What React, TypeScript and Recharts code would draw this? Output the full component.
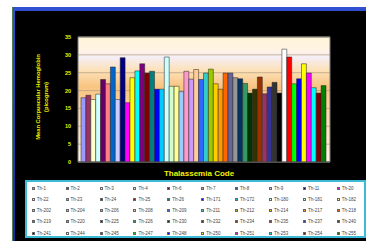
import React from 'react';
import { BarChart, Bar, XAxis, YAxis, CartesianGrid, Legend, Label, ReferenceArea } from 'recharts';

const codes = [
  'Th-1', 'Th-2', 'Th-3', 'Th-4', 'Th-6', 'Th-7', 'Th-8', 'Th-9', 'Th-11', 'Th-20',
  'Th-22', 'Th-23', 'Th-24', 'Th-25', 'Th-26', 'Th-171', 'Th-172', 'Th-180', 'Th-181', 'Th-182',
  'Th-202', 'Th-204', 'Th-206', 'Th-208', 'Th-209', 'Th-211', 'Th-212', 'Th-214', 'Th-217', 'Th-218',
  'Th-219', 'Th-220', 'Th-225', 'Th-226', 'Th-230', 'Th-232', 'Th-234', 'Th-235', 'Th-237', 'Th-240',
  'Th-241', 'Th-244', 'Th-245', 'Th-247', 'Th-248', 'Th-250', 'Th-251', 'Th-253', 'Th-254', 'Th-255',
];

const mchValues = [
  18.0, 18.7, 17.5, 19.0, 23.1, 21.9, 26.6, 17.5, 29.2, 16.6,
  23.6, 25.5, 27.5, 24.9, 25.4, 20.4, 20.4, 29.4, 21.2, 21.2,
  19.7, 25.4, 23.2, 25.9, 23.1, 24.9, 26.0, 21.9, 20.4, 24.9,
  24.9, 23.6, 23.3, 22.0, 19.3, 20.4, 23.8, 19.1, 21.0, 22.3,
  19.3, 31.6, 29.4, 21.9, 23.3, 27.5, 24.9, 20.8, 19.3, 21.4,
];

const seriesColors = [
  '#9999FF', '#993366', '#FFFFCC', '#CCFFFF', '#660066', '#FF8080', '#0066CC', '#CCCCFF', '#000080', '#FF00FF',
  '#FFFF00', '#00FFFF', '#800080', '#800000', '#008080', '#0000FF', '#00CCFF', '#CCFFFF', '#CCFFCC', '#FFFF99',
  '#99CCFF', '#FF99CC', '#CC99FF', '#FFCC99', '#3366FF', '#33CCCC', '#99CC00', '#FFCC00', '#FF9900', '#FF6600',
  '#666699', '#969696', '#003366', '#339966', '#003300', '#333300', '#993300', '#993366', '#333399', '#333333',
  '#000000', '#FFFFFF', '#FF0000', '#00FF00', '#0000FF', '#FFFF00', '#FF00FF', '#00FFFF', '#800000', '#008000',
];

const yTicks = [0, 5, 10, 15, 20, 25, 30, 35];

const xTitle = 'Thalassemia Code';
const yTitleLine1 = 'Mean Corpuscular Hemoglobin';
const yTitleLine2 = '(picogram)';

const row: Record<string, number | string> = { name: '' };
codes.forEach((c, i) => {
  row['v' + i] = mchValues[i];
});
const data = [row];

const FONT = '"Liberation Sans", Arial, sans-serif';
const YELLOW = '#F2F200';

const LegendGrid = () => {
  return (
    <div
      style={{
        position: 'relative',
        width: 341,
        height: 58,
        boxSizing: 'border-box',
        border: '2px solid #3DBBD6',
        background: '#FFFFFF',
        fontFamily: FONT,
      }}
    >
      {codes.map((code, i) => {
        const col = i % 10;
        const r = Math.floor(i / 10);
        const left = 4.7 + 33.9 * col;
        const top = 3.5 + 11.3 * r;
        return (
          <div key={code} style={{ position: 'absolute', left, top, height: 5, display: 'flex', alignItems: 'center' }}>
            <div style={{ width: 3, height: 3, background: seriesColors[i], border: '0.5px solid #666', boxSizing: 'border-box' }} />
            <span style={{ marginLeft: 2, fontSize: 4.5, lineHeight: '5px', color: '#444', whiteSpace: 'nowrap' }}>
              {code}
            </span>
          </div>
        );
      })}
    </div>
  );
};

export default function App() {
  return (
    <div style={{ position: 'absolute', left: 0, top: 0, width: 366, height: 241, background: '#FFFFFF', overflow: 'hidden' }}>
      <div style={{ position: 'absolute', left: 12, top: 7, width: 354, height: 234, background: '#4F7F4F' }} />
      <div style={{ position: 'absolute', left: 13, top: 7, width: 353, height: 234, background: 'linear-gradient(#3050D0, #1A2A9A)' }} />
      <div style={{ position: 'absolute', left: 15, top: 11, width: 351, height: 230, background: '#000000' }} />
      <div style={{ position: 'absolute', left: 0, top: 0 }}>
        <BarChart
          width={366}
          height={241}
          data={data}
          margin={{ top: 37, right: 36, left: 58, bottom: 63 }}
          barSize={4.9}
          barGap={0}
          barCategoryGap={0}
        >
          <defs>
            <linearGradient id="plotBg" x1="0" y1="0" x2="0" y2="1">
              <stop offset="0%" stopColor="#FFF6DA" />
              <stop offset="10%" stopColor="#FFF3E2" />
              <stop offset="16%" stopColor="#F5EEF6" />
              <stop offset="26%" stopColor="#FCE2BC" />
              <stop offset="40%" stopColor="#F9C480" />
              <stop offset="60%" stopColor="#FBD6A6" />
              <stop offset="100%" stopColor="#FFF4E6" />
            </linearGradient>
          </defs>
          <CartesianGrid vertical={false} fill="url(#plotBg)" stroke="#B9A487" strokeWidth={0.8} fillOpacity={1} />
          <ReferenceArea y1={0} y2={35} fill="none" stroke="#7A7A7A" strokeWidth={1} ifOverflow="visible" />
          <XAxis dataKey="name" height={16} tick={false} tickLine={false} axisLine={{ stroke: '#555' }}>
            <Label
              content={() => (
                <text x={199} y={176} textAnchor="middle" fill={YELLOW} fontFamily={FONT} fontWeight="bold" fontSize={8}>
                  {xTitle}
                </text>
              )}
            />
          </XAxis>
          <YAxis
            width={20}
            domain={[0, 35]}
            ticks={yTicks}
            interval={0}
            tickSize={0}
            tickMargin={7}
            axisLine={false}
            tick={{ fill: YELLOW, fontSize: 5.5, fontWeight: 'bold', fontFamily: FONT }}
          >
            <Label
              content={() => (
                <g>
                  <text
                    transform="translate(38,97) rotate(-90)"
                    textAnchor="middle"
                    dominantBaseline="central"
                    fill={YELLOW}
                    fontFamily={FONT}
                    fontWeight="bold"
                    fontSize={5.8}
                  >
                    {yTitleLine1}
                  </text>
                  <text
                    transform="translate(46,97) rotate(-90)"
                    textAnchor="middle"
                    dominantBaseline="central"
                    fill={YELLOW}
                    fontFamily={FONT}
                    fontWeight="bold"
                    fontSize={5.8}
                  >
                    {yTitleLine2}
                  </text>
                </g>
              )}
            />
          </YAxis>
          <Legend
            layout="horizontal"
            verticalAlign="middle"
            align="center"
            width={341}
            height={58}
            wrapperStyle={{ left: 25, top: 180, width: 341, height: 58 }}
            content={LegendGrid}
          />
          {codes.map((c, i) => (
            <Bar
              key={c}
              dataKey={'v' + i}
              name={c}
              fill={seriesColors[i]}
              stroke="#222"
              strokeWidth={0.5}
              isAnimationActive={false}
            />
          ))}
        </BarChart>
      </div>
    </div>
  );
}
